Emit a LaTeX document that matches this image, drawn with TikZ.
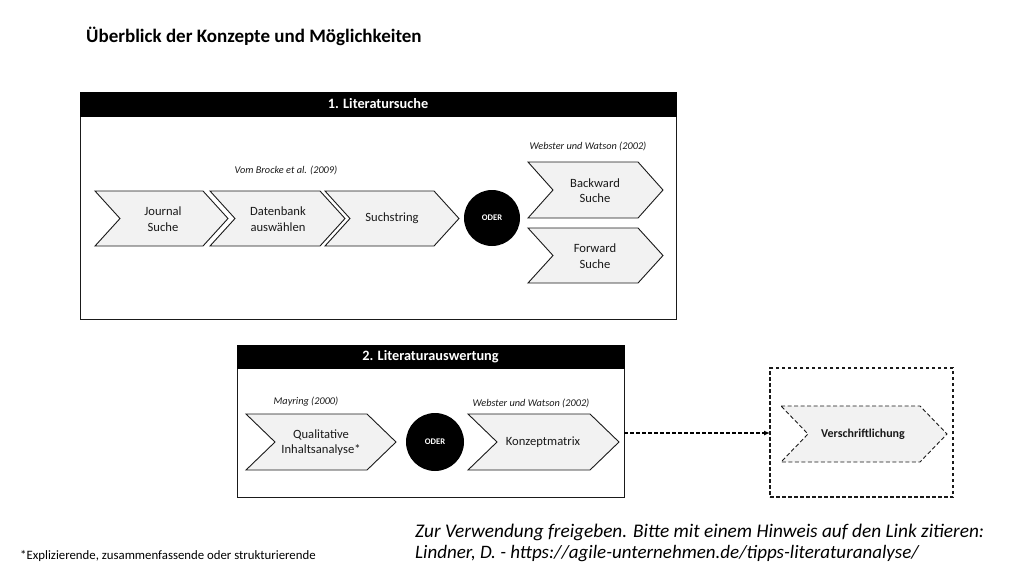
\documentclass[tikz,border=0pt]{standalone}
\usepackage{fontspec}
\setmainfont{Carlito}
\usetikzlibrary{arrows.meta}
\definecolor{chevfill}{HTML}{F2F2F2}
\definecolor{linec}{HTML}{1A1A1A}
\tikzset{
  chevshape/.style={draw=linec, fill=chevfill, line width=0.9pt, line join=miter},
  chevtext/.style={align=center, font=\fontsize{12.6}{15.5}\selectfont, text=linec},
  cite/.style={font=\fontsize{10.3}{12}\itshape\selectfont, text=linec},
  headbar/.style={fill=black, draw=black},
  headtext/.style={text=white, font=\fontsize{14.3}{16}\bfseries\selectfont},
  outerbox/.style={draw=linec, line width=1pt},
  oder/.style={circle, fill=black, text=white, inner sep=0pt, minimum size=56pt, font=\fontsize{8.6}{10}\bfseries\selectfont},
  dashbox/.style={draw=linec, line width=1.2pt, dash pattern=on 3.5pt off 2.5pt},
}
\begin{document}
\begin{tikzpicture}[x=1pt,y=-1pt]
\useasboundingbox[fill=white] (0,0) rectangle (1024,576);

% title
\node[anchor=west, font=\fontsize{19}{22}\bfseries\selectfont, inner sep=0pt] (title) at (86,36) {Überblick der Konzepte und Möglichkeiten};

% ---------- box 1 ----------
\draw[outerbox] (80,92) rectangle (676,319);
\fill[headbar] (80,92) rectangle (676,116);
\node[headtext] (h1) at (378,104) {1. Literatursuche};

% chevrons row 1
\draw[chevshape] (95,191) -- (203,191) -- (228,218.5) -- (203,246) -- (95,246) -- (120,218.5) -- cycle;
\node[chevtext] (journal) at (163,219) {Journal\\Suche};
\draw[chevshape] (210,191) -- (320,191) -- (345,218.5) -- (320,246) -- (210,246) -- (235,218.5) -- cycle;
\node[chevtext] (datenbank) at (278,219) {Datenbank\\auswählen};
\draw[chevshape] (325,191) -- (434,191) -- (459,218.5) -- (434,246) -- (325,246) -- (350,218.5) -- cycle;
\node[chevtext] (suchstring) at (392,218.5) {Suchstring};

\node[oder] (oder1) at (492,218) {ODER};

\draw[chevshape] (528,162) -- (638,162) -- (663,190) -- (638,218) -- (528,218) -- (553,190) -- cycle;
\node[chevtext] (backward) at (595,190.5) {Backward\\Suche};
\draw[chevshape] (528,228) -- (638,228) -- (663,255.5) -- (638,283) -- (528,283) -- (553,255.5) -- cycle;
\node[chevtext] (forward) at (595,256) {Forward\\Suche};

\node[cite] (brocke) at (286,170) {Vom Brocke et al. (2009)};
\node[cite] (webster1) at (588,146) {Webster und Watson (2002)};

% ---------- box 2 ----------
\node[outerbox, minimum width=387pt, minimum height=152pt, inner sep=0pt] (box2) at (430.5,421) {};
\fill[headbar] (237,345) rectangle (624,368);
\node[headtext] (h2) at (430.5,356.5) {2. Literaturauswertung};

\draw[chevshape] (246,414) -- (367,414) -- (396,442) -- (367,470) -- (246,470) -- (275,442) -- cycle;
\node[chevtext] (qual) at (321,442.5) {Qualitative\\Inhaltsanalyse*};
\node[oder, minimum size=58pt] (oder2) at (435,442) {ODER};
\draw[chevshape] (468,414) -- (590,414) -- (619,442) -- (590,470) -- (468,470) -- (497,442) -- cycle;
\node[chevtext] (konzept) at (543,442) {Konzeptmatrix};

\node[cite] (mayring) at (306,402) {Mayring (2000)};
\node[cite] (webster2) at (531,403) {Webster und Watson (2002)};

% ---------- Verschriftlichung ----------
\node[dashbox, minimum width=183pt, minimum height=129pt, inner sep=0pt] (vbox) at (861.5,432.5) {};
\draw[chevshape, draw=linec, line width=0.9pt, dash pattern=on 4pt off 2.5pt] (781,406) -- (920,406) -- (947,434) -- (920,462) -- (781,462) -- (808,434) -- cycle;
\node[chevtext, font=\fontsize{12}{14}\bfseries\selectfont] (versch) at (863,434) {Verschriftlichung};

% dashed arrow
\coordinate (astart) at (624,433);
\coordinate (aend) at (770,433);
\draw[line width=1.2pt, dash pattern=on 3.5pt off 2.5pt, -{Latex[length=6pt,width=5pt]}] (astart) -- (aend);

% bottom texts
\node[anchor=west, inner sep=0pt, font=\fontsize{19.3}{22}\itshape\selectfont, align=left] (note1) at (415,532) {Zur Verwendung freigeben. Bitte mit einem Hinweis auf den Link zitieren:};
\node[anchor=west, inner sep=0pt, font=\fontsize{19}{22}\itshape\selectfont, align=left] (note2) at (415,554) {Lindner, D. - https://agile-unternehmen.de/tipps-literaturanalyse/};
\node[anchor=west, inner sep=0pt, font=\fontsize{12.8}{14}\selectfont] (foot) at (20,556) {*Explizierende, zusammenfassende oder strukturierende};
\end{tikzpicture}
\end{document}
